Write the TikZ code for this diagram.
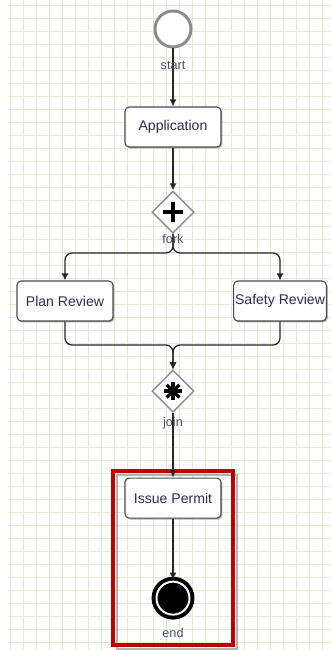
\documentclass[tikz,border=0pt]{standalone}
\usepackage{fontspec}
\setmainfont{Liberation Sans}
\usetikzlibrary{shapes.geometric,arrows.meta,shadows}
\definecolor{gridgreen}{HTML}{E2E9D2}
\definecolor{txtblue}{HTML}{2F2A52}
\definecolor{lblgray}{HTML}{4A4E6E}
\definecolor{permitred}{HTML}{C00000}

\begin{document}
\begin{tikzpicture}[x=0.025cm,y=-0.025cm,>={Latex[length=5pt,width=5pt]},
  box/.style={draw=black!70,fill=white,rounded corners=3pt,line width=0.8pt,minimum width=2.4cm,minimum height=1cm,inner sep=1pt,text=txtblue,font=\fontsize{10}{12}\selectfont,drop shadow={shadow xshift=1pt,shadow yshift=-1pt,fill=black!50,opacity=.6}},
  gate/.style={diamond,draw=black!45,fill=white,line width=1pt,aspect=1,minimum width=1.05cm,minimum height=1.05cm,inner sep=0pt},
  lbl/.style={text=lblgray,font=\fontsize{9}{10}\selectfont,inner sep=1pt},
  flow/.style={->,draw=black!85,line width=0.9pt,rounded corners=5pt}]
\useasboundingbox (0,0) rectangle (331,650);
\fill[white] (0,0) rectangle (331,650);
% grid paper
\foreach \gx in {10,23,...,330} \draw[gridgreen,line width=0.7pt] (\gx,0) -- (\gx,650);
\foreach \gy in {5,18,...,650} \draw[gridgreen,line width=0.7pt] (8,\gy) -- (331,\gy);

% highlight round the last task
\draw[black!30,line width=1.5pt] (117,475) rectangle (237,649);
\draw[permitred,line width=2.6pt] (113,471) rectangle (233,645);

\node[circle,draw=black!45,fill=white,line width=2.1pt,minimum size=0.9cm,inner sep=0pt] (start) at (173,29) {};
\node[box,below of=start,node distance=2.45cm] (app) {Application};
\node[gate,below of=app,node distance=2.125cm] (fork) {};
\node[box] (plan) at (65,301) {Plan Review};
\node[box,minimum width=2.3cm] (safety) at (280,301) {Safety Review};
\node[gate,below of=fork,node distance=4.475cm] (join) {};
\node[box,below of=join,node distance=2.675cm] (permit) {Issue Permit};
\node[circle,draw=black,line width=2.8pt,double=white,double distance=1.4pt,fill=black,minimum size=0.825cm,inner sep=0pt,below of=permit,node distance=2.5cm] (end) {};

% gate marks
\draw[line width=2.6pt] (fork.center) ++(-10,0) -- ++(20,0);
\draw[line width=2.6pt] (fork.center) ++(0,-10) -- ++(0,20);
\foreach \a in {0,45,90,135} \draw[line width=2.3pt] (join.center) ++(\a:9) -- ++(\a+180:18);

\coordinate (split) at (173,253);
\coordinate (merge) at (173,345);
\draw[flow] (start) -- (app);
\draw[flow] (app) -- (fork);
\draw[flow] (fork.south) -- (split) -| (plan.north);
\draw[flow] (fork.south) -- (split) -| (safety.north);
\draw[flow] (plan.south) |- (merge) -- (join.north);
\draw[flow] (safety.south) |- (merge) -- (join.north);
\draw[flow] (join) -- (permit);
\draw[flow] (permit) -- (end);

\node[lbl] (startlbl) at (173,65) {start};
\node[lbl] (forklbl) at (173,239) {fork};
\node[lbl] (joinlbl) at (173,423) {join};
\node[lbl] (endlbl) at (173,633) {end};
\end{tikzpicture}
\end{document}
